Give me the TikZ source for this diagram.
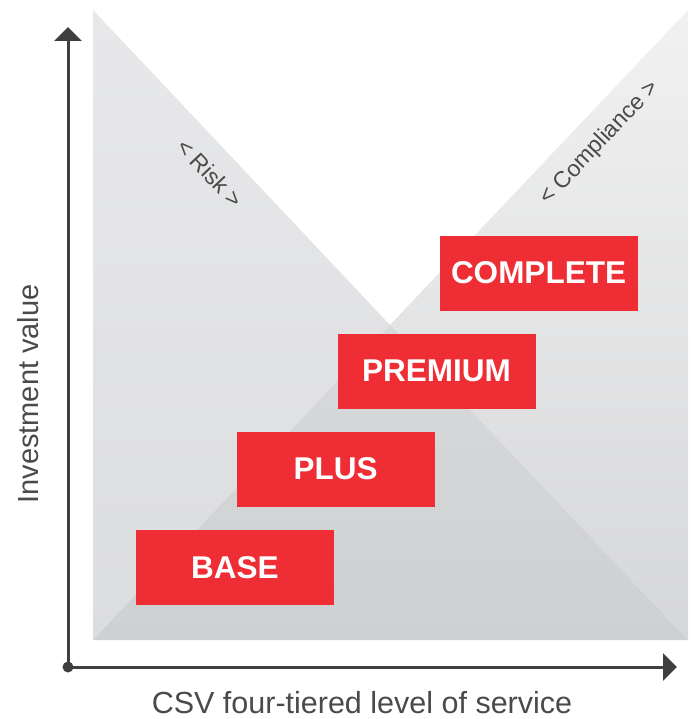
\documentclass[tikz,border=0pt]{standalone}
\usepackage{fontspec}
\setmainfont{Liberation Sans}
\usetikzlibrary{arrows.meta}
\definecolor{boxred}{HTML}{EE2E34}
\definecolor{axisgray}{HTML}{3F3F3F}
\definecolor{txtgray}{HTML}{4A4A4A}
\definecolor{riskTop}{HTML}{E8E8EA}
\definecolor{riskBot}{HTML}{DCDDDF}
\definecolor{compTop}{HTML}{F1F1F1}
\definecolor{compBot}{HTML}{D6D7D9}
\definecolor{overTop}{HTML}{D8D9DB}
\definecolor{overBot}{HTML}{CFD0D2}
\begin{document}
\begin{tikzpicture}[x=1pt,y=-1pt,
  tier/.style={fill=boxred, minimum width=198pt, minimum height=75pt, inner sep=0pt,
    text=white, font=\bfseries\fontsize{31.5}{31.5}\selectfont},
  axisline/.style={draw=axisgray, line width=3pt},
  axislabel/.style={text=txtgray, inner sep=0pt},
  diaglabel/.style={text=txtgray, font=\fontsize{23}{23}\selectfont, inner sep=0pt}]
\useasboundingbox (0,0) rectangle (691,719);
% regions
\shade[top color=riskTop, bottom color=riskBot] (93,10) -- (390,325) -- (93,640) -- cycle;
\shade[top color=compTop, bottom color=compBot] (688,10) -- (688,640) -- (390,325) -- cycle;
\shade[top color=overTop, bottom color=overBot] (93,640) -- (390,325) -- (688,640) -- cycle;
% diagonal labels
\node[diaglabel, rotate=-46.6] (risk) at (210,173) {< Risk >};
\node[diaglabel, rotate=46.6] (comp) at (600,143) {< Compliance >};
% tiers
\node[tier] (base) at (235,567.5) {BASE};
\node[tier] (plus) at (335.5,469) {PLUS};
\node[tier] (premium) at (436.5,371) {PREMIUM};
\node[tier] (complete) at (538.5,273) {COMPLETE};
% axes
\coordinate (origin) at (68,667);
\coordinate (ytip) at (68,27);
\coordinate (xtip) at (677,667);
\draw[axisline, -{Triangle[length=14pt,width=27pt]}] (origin) -- (ytip);
\draw[axisline, -{Triangle[length=14pt,width=27pt]}] (origin) -- (xtip);
\fill[axisgray] (origin) circle (5.5pt);
% axis labels
\node[axislabel, font=\fontsize{30.5}{30.5}\selectfont] (xlab) at (362,703) {CSV four-tiered level of service};
\node[axislabel, font=\fontsize{29}{29}\selectfont, rotate=90] (ylab) at (28,394) {Investment value};
\end{tikzpicture}
\end{document}
